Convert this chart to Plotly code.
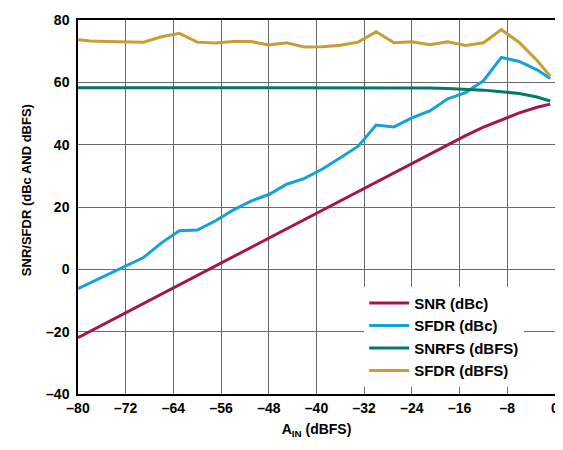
import plotly.graph_objects as go

# input amplitude (dBFS)
a_in = [-80, -78, -75, -72, -69, -66, -63, -60, -57, -54, -51, -48, -45, -42,
        -39, -36, -33, -30, -27, -24, -21, -18, -15, -12, -9, -6, -3, -0.8]

snr_dbc = [-21.9, -19.9, -16.9, -13.9, -10.9, -7.9, -4.9, -1.9, 1.1, 4.1, 7.1, 10.1,
           13.1, 16.1, 19.1, 22.1, 25.1, 28.1, 31.1, 34.1, 37.1, 40.1, 42.9, 45.6,
           48.0, 50.2, 52.0, 53.0]

sfdr_dbc = [-6.2, -4.4, -1.7, 0.9, 3.8, 8.5, 12.4, 12.6, 15.5, 19.0, 21.9, 24.0,
            27.3, 29.2, 32.2, 35.8, 39.5, 46.3, 45.7, 48.6, 50.8, 54.7, 56.7, 60.5,
            68.0, 66.7, 64.0, 61.2]

snrfs_dbfs = [58.3, 58.3, 58.3, 58.3, 58.3, 58.3, 58.3, 58.3, 58.3, 58.3, 58.3, 58.3,
              58.3, 58.3, 58.3, 58.3, 58.3, 58.3, 58.3, 58.3, 58.2, 58.0, 57.8, 57.5,
              57.0, 56.4, 55.3, 54.0]

sfdr_dbfs = [73.7, 73.3, 73.1, 73.0, 72.9, 74.6, 75.7, 72.9, 72.6, 73.1, 73.1, 72.0,
             72.7, 71.3, 71.4, 71.9, 72.9, 76.2, 72.7, 73.0, 72.1, 73.0, 71.8, 72.7,
             76.9, 72.8, 67.0, 62.0]

x_ticks = [-80, -72, -64, -56, -48, -40, -32, -24, -16, -8, 0]
y_ticks = [-40, -20, 0, 20, 40, 60, 80]

font_family = "Liberation Sans, Arial, sans-serif"

fig = go.Figure()

series = [
    ("SNR (dBc)", snr_dbc, "#A3174A"),
    ("SFDR (dBc)", sfdr_dbc, "#16A2D8"),
    ("SNRFS (dBFS)", snrfs_dbfs, "#017A6C"),
    ("SFDR (dBFS)", sfdr_dbfs, "#C99C34"),
]
for name, vals, color in series:
    fig.add_trace(go.Scatter(x=a_in, y=vals, name=name, mode="lines",
                             line=dict(color=color, width=3)))

fig.update_xaxes(range=[-80, 0], tickvals=x_ticks,
                 ticktext=["\u2013" + str(-v) if v < 0 else str(v) for v in x_ticks],
                 ticklabeloverflow="allow",
                 showgrid=True, gridcolor="#6a6a6a", gridwidth=1,
                 showline=True, linecolor="black", linewidth=1.5, mirror=True,
                 zeroline=False, ticks="",
                 tickfont=dict(family=font_family, size=14, color="black", weight="bold"),
                 title=dict(text="A<sub>IN</sub> (dBFS)", standoff=10,
                            font=dict(family=font_family, size=14, color="black", weight="bold")))

fig.update_yaxes(range=[-40, 80], tickvals=y_ticks,
                 ticktext=["\u2013" + str(-v) if v < 0 else str(v) for v in y_ticks],
                 ticklabeloverflow="allow",
                 showgrid=True, gridcolor="#6a6a6a", gridwidth=1,
                 showline=True, linecolor="black", linewidth=1.5, mirror=True,
                 zeroline=False, ticks="", ticklabelstandoff=4,
                 tickfont=dict(family=font_family, size=14, color="black", weight="bold"))

fig.add_annotation(text="SNR/SFDR (dBc AND dBFS)", textangle=-90,
                   xref="paper", yref="paper", x=-0.109, y=0.545,
                   showarrow=False, xanchor="center", yanchor="middle",
                   font=dict(family=font_family, size=13, color="black", weight="bold"))

# the page body adds an 8px margin, so the figure is sized to fit inside it
fig.update_layout(
    width=555, height=442,
    margin=dict(l=70, r=8, t=4, b=56),
    plot_bgcolor="white", paper_bgcolor="white",
    showlegend=True,
    legend=dict(x=0.6, y=0.287, xanchor="left", yanchor="top",
                bgcolor="white", borderwidth=0, itemwidth=40,
                font=dict(family=font_family, size=15, color="black", weight="bold")),
)

fig.write_html("out.html")
